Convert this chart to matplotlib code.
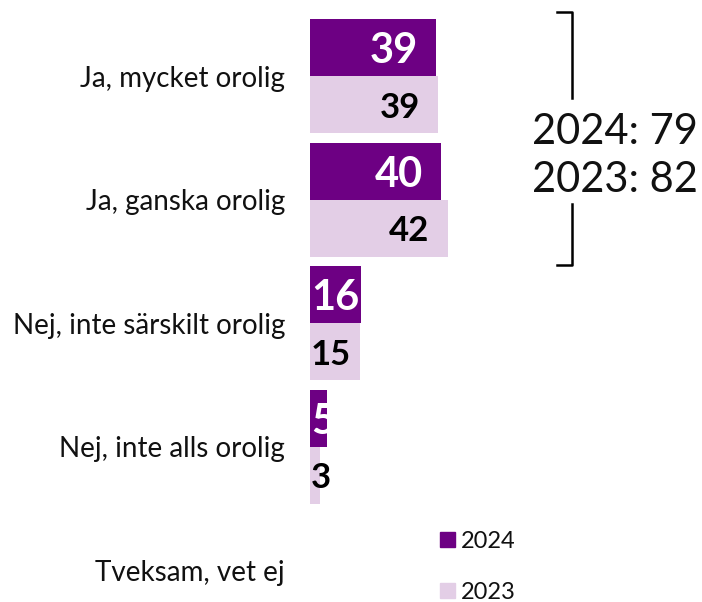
import matplotlib
matplotlib.use("Agg")
import matplotlib.pyplot as plt
from matplotlib.patches import Rectangle
from matplotlib.lines import Line2D
import numpy as np

categories = ["Ja, mycket orolig", "Ja, ganska orolig", "Nej, inte särskilt orolig",
              "Nej, inte alls orolig", "Tveksam, vet ej"]
series_names = ["2024", "2023"]
values_2024 = [38.6, 40.2, 15.6, 5.1, 0.0]
values_2023 = [39.3, 42.2, 15.3, 3.1, 0.0]
bracket_lines = ["2024: 79", "2023: 82"]

DARK = "#6D0083"
LIGHT = "#E3CEE6"
FONT = "Lato"

W, H, DPI = 702, 602, 100
fig = plt.figure(figsize=(W / DPI, H / DPI), dpi=DPI)

def fx(px):
    return px / W

def fy(py):
    return 1 - py / H

# axes: x=310 px at value 0, 3.26 px per unit; full height
ax = fig.add_axes([fx(310), 0, fx(W - 310), 1])
px_per_unit = 3.26
ax.set_xlim(0, (W - 310) / px_per_unit)
pitch = 123.5
c0 = 76.3
ax.set_ylim((H - c0) / pitch, -c0 / pitch)
ax.axis("off")

bh = 57 / pitch
y = np.arange(len(categories))
ax.barh(y - bh / 2, values_2024, height=bh, color=DARK, edgecolor="none")
ax.barh(y + bh / 2, values_2023, height=bh, color=LIGHT, edgecolor="none")

# value labels
def label(vals, yoff, color, size):
    for i, v in enumerate(vals):
        if v <= 0:
            continue
        txt = f"{round(v):d}"
        end_px = v * px_per_unit
        tw = 0.6 * size * DPI / 72 * len(txt)
        if end_px - 18 - tw >= 0:
            ax.annotate(txt, (v, y[i] + yoff), xytext=(-18 * 72 / DPI, 0),
                        textcoords="offset points", ha="right", va="center_baseline",
                        color=color, fontsize=size, fontweight="bold", family=FONT)
        else:
            ax.annotate(txt, (0, y[i] + yoff), xytext=(1 * 72 / DPI, 0),
                        textcoords="offset points", ha="left", va="center_baseline",
                        color=color, fontsize=size, fontweight="bold", family=FONT)

label(values_2024, -bh / 2, "white", 30)
label(values_2023, bh / 2, "black", 25)

# category labels
for i, c in enumerate(categories):
    ax.annotate(c, (0, y[i]), xytext=(-25 * 72 / DPI, 0), textcoords="offset points",
                ha="right", va="center_baseline", fontsize=20, family=FONT, color="#111111",
                annotation_clip=False)

# legend
colors = [DARK, LIGHT]
leg_y = [532, 583]
for name, col, ly in zip(series_names, colors, leg_y):
    fig.patches.append(Rectangle((fx(440), fy(ly + 15)), 15 / W, 15 / H,
                                 transform=fig.transFigure, color=col))
    fig.text(fx(461), fy(ly + 7.5), name, ha="left", va="center_baseline",
             fontsize=17, family=FONT, color="#111111")

# bracket
lw = 1.8
fig.lines.append(Line2D([fx(557), fx(572), fx(572)], [fy(12), fy(12), fy(98)],
                        transform=fig.transFigure, color="black", lw=lw,
                        solid_joinstyle="round"))
fig.lines.append(Line2D([fx(572), fx(572), fx(557)], [fy(204), fy(265), fy(265)],
                        transform=fig.transFigure, color="black", lw=lw,
                        solid_joinstyle="round"))
for t, ty in zip(bracket_lines, [128, 176]):
    fig.text(fx(615), fy(ty), t, ha="center", va="center_baseline", fontsize=30,
             family=FONT, fontweight="normal", color="#111111")

fig.savefig("out.png", dpi=DPI)
